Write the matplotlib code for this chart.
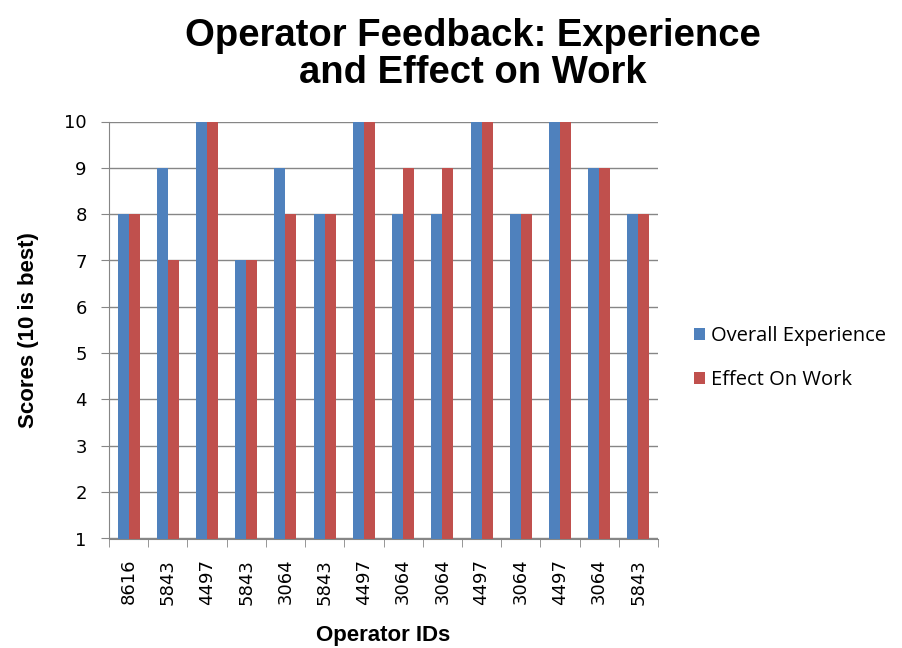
import numpy as np
import matplotlib.pyplot as plt

operator_ids = ["8616", "5843", "4497", "5843", "3064", "5843", "4497",
                "3064", "3064", "4497", "3064", "4497", "3064", "5843"]
overall_experience = [8, 9, 10, 7, 9, 8, 10, 8, 8, 10, 8, 10, 9, 8]
effect_on_work = [8, 7, 10, 7, 8, 8, 10, 9, 9, 10, 8, 10, 9, 8]

blue = "#4F81BD"
red = "#C0504D"
grid_col = "#868686"

fig = plt.figure(figsize=(9.02, 6.48), dpi=100)
# plot area in pixels: x 109..658, y 121.5..538.5
ax = fig.add_axes([109 / 902, 1 - 538.5 / 648, 549 / 902, 417 / 648])

x = np.arange(len(operator_ids))
w = 0.28
ax.bar(x - w / 2, overall_experience, w, color=blue, label="Overall Experience", zorder=3)
ax.bar(x + w / 2, effect_on_work, w, color=red, label="Effect On Work", zorder=3)

ax.set_xlim(-0.5, len(operator_ids) - 0.5)
ax.set_ylim(1, 10)
ax.set_yticks(range(1, 11))
ax.yaxis.grid(True, color=grid_col, linewidth=1, zorder=0)

ax.set_xticks(x)
ax.set_xticklabels(operator_ids, rotation=90, fontsize=13, fontfamily="DejaVu Sans")
ax.tick_params(axis="x", which="major", length=0, pad=14.5)
ax.set_xticks(np.arange(-0.5, len(operator_ids)), minor=True)
ax.tick_params(axis="x", which="minor", length=6, color=grid_col, direction="out")
ax.tick_params(axis="y", length=6, color=grid_col, labelsize=13, pad=10)

for side in ["top", "right"]:
    ax.spines[side].set_visible(False)
ax.spines["left"].set_color(grid_col)
ax.spines["bottom"].set_color(grid_col)

ax.set_xlabel("Operator IDs", fontsize=16, fontweight="bold", fontfamily="Liberation Sans", labelpad=15)
ax.set_ylabel("Scores (10 is best)", fontsize=16, fontweight="bold", fontfamily="Liberation Sans", labelpad=18)

fig.suptitle("Operator Feedback: Experience\nand Effect on Work", x=0.524, y=0.972,
             fontsize=27.5, fontweight="bold", fontfamily="Liberation Sans", linespacing=1.02)

ax.legend(loc="center left", bbox_to_anchor=(694 / 902, 1 - 358 / 648), bbox_transform=fig.transFigure,
          frameon=False, borderpad=0, borderaxespad=0,
          prop={"family": "Open Sans", "size": 14.5}, handlelength=0.55, handleheight=0.55,
          labelspacing=1.2, handletextpad=0.3)

fig.savefig("out.png", dpi=100)
